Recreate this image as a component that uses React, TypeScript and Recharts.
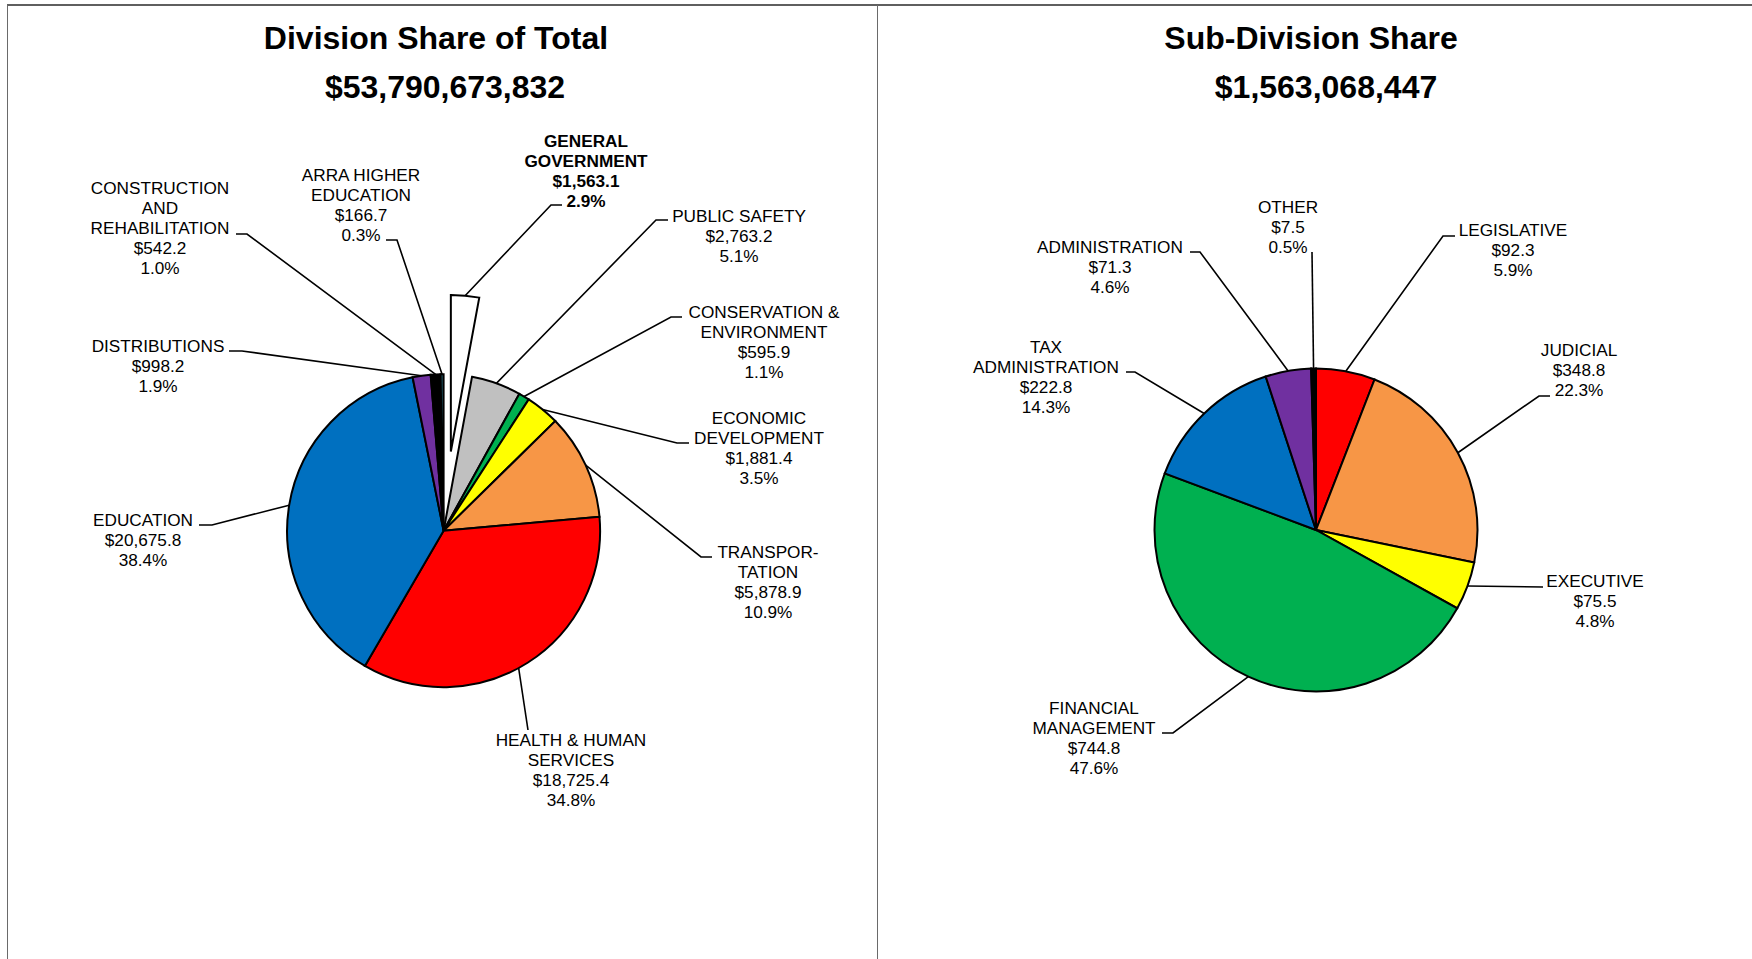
import { PieChart, Pie, Cell } from 'recharts';

// Division share of total ($ millions)
const DIVISIONS = [
  'GENERAL\nGOVERNMENT',
  'PUBLIC SAFETY',
  'CONSERVATION &\nENVIRONMENT',
  'ECONOMIC\nDEVELOPMENT',
  'TRANSPOR-\nTATION',
  'HEALTH & HUMAN\nSERVICES',
  'EDUCATION',
  'DISTRIBUTIONS',
  'CONSTRUCTION\nAND\nREHABILITATION',
  'ARRA HIGHER\nEDUCATION',
];
const DIVISION_AMOUNTS = [1563.1, 2763.2, 595.9, 1881.4, 5878.9, 18725.4, 20675.8, 998.2, 542.2, 166.7];
const DIVISION_PCTS = ['2.9%', '5.1%', '1.1%', '3.5%', '10.9%', '34.8%', '38.4%', '1.9%', '1.0%', '0.3%'];
const DIVISION_COLORS = ['#FFFFFF', '#C0C0C0', '#00B050', '#FFFF00', '#F79646', '#FF0000', '#0070C0', '#7030A0', '#000000', '#215968'];

// Sub-division share of General Government ($ millions)
const SUBDIVISIONS = [
  'LEGISLATIVE',
  'JUDICIAL',
  'EXECUTIVE',
  'FINANCIAL\nMANAGEMENT',
  'TAX\nADMINISTRATION',
  'ADMINISTRATION',
  'OTHER',
];
const SUB_AMOUNTS = [92.3, 348.8, 75.5, 744.8, 222.8, 71.3, 7.5];
const SUB_PCTS = ['5.9%', '22.3%', '4.8%', '47.6%', '14.3%', '4.6%', '0.5%'];
const SUB_COLORS = ['#FF0000', '#F79646', '#FFFF00', '#00B050', '#0070C0', '#7030A0', '#000000'];

const TITLES = ['Division Share of Total', 'Sub-Division Share'];
const TOTALS = ['$53,790,673,832', '$1,563,068,447'];

// label placement (page px): text centre x, first line centre y, leader elbow, leader tip, nudge in degrees
type LabelPos = { x: number; y: number; elbow: [number, number]; tip: [number, number]; nudge?: number };

const DIVISION_LABELS: LabelPos[] = [
  { x: 586, y: 141, elbow: [551, 205], tip: [562, 205] },
  { x: 739, y: 216, elbow: [656, 220], tip: [668, 220] },
  { x: 764, y: 312, elbow: [671, 317], tip: [682, 317] },
  { x: 759, y: 418, elbow: [677, 443], tip: [689, 443] },
  { x: 768, y: 552, elbow: [701, 557], tip: [712, 557] },
  { x: 571, y: 740, elbow: [528, 730], tip: [528, 730], nudge: 3.8 },
  { x: 143, y: 520, elbow: [212, 525], tip: [199, 525] },
  { x: 158, y: 346, elbow: [242, 351], tip: [229, 351] },
  { x: 160, y: 188, elbow: [247, 234], tip: [236, 234] },
  { x: 361, y: 175, elbow: [397, 240], tip: [386, 240] },
];

const SUB_LABELS: LabelPos[] = [
  { x: 1513, y: 230, elbow: [1443, 236], tip: [1455, 236] },
  { x: 1579, y: 350, elbow: [1539, 396], tip: [1550, 396] },
  { x: 1595, y: 581, elbow: [1543, 587], tip: [1543, 587] },
  { x: 1094, y: 708, elbow: [1173, 733], tip: [1162, 733] },
  { x: 1046, y: 347, elbow: [1135, 372], tip: [1126, 372] },
  { x: 1110, y: 247, elbow: [1200, 252], tip: [1190, 252] },
  { x: 1288, y: 207, elbow: [1312, 252], tip: [1312, 252] },
];

const W = 1752;
const H = 959;
const FONT = '"Liberation Sans", Arial, sans-serif';
const RAD = Math.PI / 180;
const NO_MARGIN = { top: 0, right: 0, bottom: 0, left: 0 };

const LEFT_CX = 443.6;
const LEFT_CY = 530.7;
const LEFT_R = 156.5;
const EXPLODE = 79.5;
const RIGHT_CX = 1316;
const RIGHT_CY = 530;
const RIGHT_R = 161.5;

const fmtAmount = (v: number) => '$' + v.toLocaleString('en-US', { minimumFractionDigits: 1, maximumFractionDigits: 1 });

function makeLabel(
  names: string[],
  amounts: number[],
  pcts: string[],
  layout: LabelPos[],
  show: (i: number) => boolean,
  boldIndex = -1,
) {
  return (props: any) => {
    const { cx, cy, midAngle, outerRadius, index } = props;
    if (!show(index)) return null;
    const lay = layout[index];
    const a = (midAngle - (lay.nudge ?? 0)) * RAD;
    const ex = cx + outerRadius * Math.cos(-a);
    const ey = cy + outerRadius * Math.sin(-a);
    const lines = [...names[index].split('\n'), fmtAmount(amounts[index]), pcts[index]];
    return (
      <g key={`lbl-${index}`}>
        <polyline
          points={`${ex},${ey} ${lay.elbow[0]},${lay.elbow[1]} ${lay.tip[0]},${lay.tip[1]}`}
          fill="none"
          stroke="#000"
          strokeWidth={1.6}
        />
        <text
          textAnchor="middle"
          fontFamily={FONT}
          fontSize={17.2}
          fontWeight={index === boldIndex ? 'bold' : 'normal'}
          fill="#000"
        >
          {lines.map((l, i) => (
            <tspan key={i} x={lay.x} y={lay.y + 6 + i * 20}>
              {l}
            </tspan>
          ))}
        </text>
      </g>
    );
  };
}

export default function App() {
  const divData = DIVISIONS.map((name, i) => ({ name, value: DIVISION_AMOUNTS[i] }));
  const subData = SUBDIVISIONS.map((name, i) => ({ name, value: SUB_AMOUNTS[i] }));

  // General Government slice is pulled out along its mid angle
  const divTotal = DIVISION_AMOUNTS.reduce((s, v) => s + v, 0);
  const ggMid = (DIVISION_AMOUNTS[0] / divTotal / 2) * 360 * RAD;
  const expCx = LEFT_CX + EXPLODE * Math.sin(ggMid);
  const expCy = LEFT_CY - EXPLODE * Math.cos(ggMid);

  const abs = { position: 'absolute' as const, left: 0, top: 0 };

  return (
    <div style={{ position: 'absolute', left: 0, top: 0, width: W, height: H, overflow: 'hidden', background: '#fff' }}>
      {/* panel frame */}
      <div style={{ position: 'absolute', left: 7, top: 4, width: W + 20, height: H + 20, borderTop: '2px solid #5f5f5f', borderLeft: '1px solid #6a6a6a' }} />
      <div style={{ position: 'absolute', left: 877, top: 5, width: 1, height: H, background: '#6a6a6a' }} />

      <svg width={W} height={H} style={abs}>
        <g fontFamily={FONT} fontWeight="bold" fontSize={32} fill="#000" textAnchor="middle">
          <text x={436} y={49}>{TITLES[0]}</text>
          <text x={445} y={98}>{TOTALS[0]}</text>
          <text x={1311} y={49}>{TITLES[1]}</text>
          <text x={1326} y={98}>{TOTALS[1]}</text>
        </g>
      </svg>

      <div style={abs}>
        <PieChart width={W} height={H} margin={NO_MARGIN}>
          <Pie
            data={divData}
            dataKey="value"
            nameKey="name"
            cx={LEFT_CX}
            cy={LEFT_CY}
            outerRadius={LEFT_R}
            startAngle={90}
            endAngle={-270}
            stroke="#000"
            strokeWidth={2}
            labelLine={false}
            label={makeLabel(DIVISIONS, DIVISION_AMOUNTS, DIVISION_PCTS, DIVISION_LABELS, (i) => i !== 0)}
            isAnimationActive={false}
          >
            {divData.map((d, i) => (
              <Cell key={d.name} fill={i === 0 ? 'none' : DIVISION_COLORS[i]} stroke={i === 0 ? 'none' : '#000'} />
            ))}
          </Pie>
          <Pie
            data={divData}
            dataKey="value"
            nameKey="name"
            cx={expCx}
            cy={expCy}
            outerRadius={LEFT_R}
            startAngle={90}
            endAngle={-270}
            stroke="#000"
            strokeWidth={2}
            labelLine={false}
            label={makeLabel(DIVISIONS, DIVISION_AMOUNTS, DIVISION_PCTS, DIVISION_LABELS, (i) => i === 0, 0)}
            isAnimationActive={false}
          >
            {divData.map((d, i) => (
              <Cell key={d.name} fill={i === 0 ? DIVISION_COLORS[0] : 'none'} stroke={i === 0 ? '#000' : 'none'} />
            ))}
          </Pie>
        </PieChart>
      </div>

      <div style={abs}>
        <PieChart width={W} height={H} margin={NO_MARGIN}>
          <Pie
            data={subData}
            dataKey="value"
            nameKey="name"
            cx={RIGHT_CX}
            cy={RIGHT_CY}
            outerRadius={RIGHT_R}
            startAngle={90}
            endAngle={-270}
            stroke="#000"
            strokeWidth={2}
            labelLine={false}
            label={makeLabel(SUBDIVISIONS, SUB_AMOUNTS, SUB_PCTS, SUB_LABELS, () => true)}
            isAnimationActive={false}
          >
            {subData.map((d, i) => (
              <Cell key={d.name} fill={SUB_COLORS[i]} />
            ))}
          </Pie>
        </PieChart>
      </div>
    </div>
  );
}
